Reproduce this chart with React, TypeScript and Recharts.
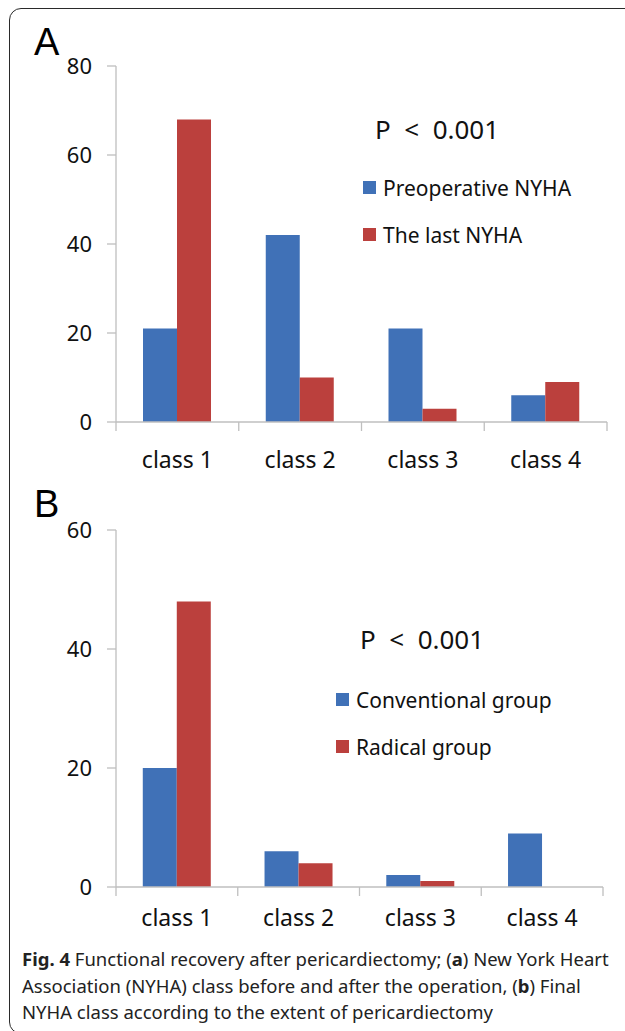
import React from 'react';
import { BarChart, Bar, XAxis, YAxis, Legend } from 'recharts';

const classes = ['class 1', 'class 2', 'class 3', 'class 4'];

// panel A: NYHA before / after operation
const preoperativeNyha = [21, 42, 21, 6];
const lastNyha = [68, 10, 3, 9];
const ticksA = [0, 20, 40, 60, 80];

// panel B: final NYHA by extent of pericardiectomy
const conventionalGroup = [20, 6, 2, 9];
const radicalGroup = [48, 4, 1, 0];
const ticksB = [0, 20, 40, 60];

const BLUE = '#4071B7';
const RED = '#BB403D';
const AXIS = '#BFBFBF';
const FONT = '"Noto Sans", "Open Sans", sans-serif';
const TICK = 9;

const dataA = classes.map((name, i) => ({ name, pre: preoperativeNyha[i], last: lastNyha[i] }));
const dataB = classes.map((name, i) => ({ name, conv: conventionalGroup[i], radical: radicalGroup[i] }));

// excel puts the tick marks between the categories, so draw them at the band edges
const makeCategoryTick = (labelMargin: number) => (props: any) => {
  const { x, y, payload, index, visibleTicksCount } = props;
  const half = payload.offset || 0;
  const y0 = y - labelMargin - TICK;
  const y1 = y - labelMargin;
  return (
    <g>
      <line x1={x - half} x2={x - half} y1={y0} y2={y1} stroke={AXIS} strokeWidth={1.3} />
      {index === visibleTicksCount - 1 && (
        <line x1={x + half} x2={x + half} y1={y0} y2={y1} stroke={AXIS} strokeWidth={1.3} />
      )}
      <text x={x} y={y} dy="0.71em" textAnchor="middle" fill="#111" fontSize={23} fontFamily={FONT}>
        {payload.value}
      </text>
    </g>
  );
};

const LegendBox = ({ payload }: any) => (
  <div style={{ fontFamily: FONT, fontSize: 21, color: '#111' }}>
    {(payload || []).map((p: any) => (
      <div key={p.value} style={{ display: 'flex', alignItems: 'center', height: 47, whiteSpace: 'nowrap' }}>
        <span style={{ display: 'inline-block', width: 13, height: 13, background: p.color, marginRight: 7 }} />
        <span>{p.value}</span>
      </div>
    ))}
  </div>
);

type PanelProps = {
  data: any[];
  keys: [string, string];
  names: [string, string];
  ticks: number[];
  top: number;
  height: number;
  margin: { top: number; right: number; bottom: number; left: number };
  labelMargin: number;
  legendPos: { top: number; left: number };
};

const Panel = ({ data, keys, names, ticks, top, height, margin, labelMargin, legendPos }: PanelProps) => (
  <div style={{ position: 'absolute', left: 0, top }}>
    <BarChart width={625} height={height} data={data} margin={margin} barCategoryGap="22%" barGap={0}>
      <XAxis
        dataKey="name"
        height={1}
        axisLine={{ stroke: AXIS, strokeWidth: 1.3 }}
        tickLine={false}
        tickSize={TICK}
        tickMargin={labelMargin}
        tick={makeCategoryTick(labelMargin)}
        interval={0}
      />
      <YAxis
        width={80}
        domain={[0, ticks[ticks.length - 1]]}
        ticks={ticks}
        interval={0}
        axisLine={{ stroke: AXIS, strokeWidth: 1.3 }}
        tickLine={{ stroke: AXIS, strokeWidth: 1.3 }}
        tickSize={TICK}
        tickMargin={15}
        tick={{ fill: '#111', fontSize: 22, fontFamily: FONT }}
      />
      <Legend
        layout="vertical"
        align="center"
        verticalAlign="middle"
        content={<LegendBox />}
        wrapperStyle={{ top: legendPos.top, left: legendPos.left, width: 260 }}
      />
      <Bar dataKey={keys[0]} name={names[0]} fill={BLUE} isAnimationActive={false} />
      <Bar dataKey={keys[1]} name={names[1]} fill={RED} isAnimationActive={false} />
    </BarChart>
  </div>
);

const pStyle: React.CSSProperties = {
  position: 'absolute',
  fontFamily: FONT,
  fontSize: 26,
  lineHeight: '26px',
  color: '#111',
  whiteSpace: 'pre',
};

const letterStyle: React.CSSProperties = {
  position: 'absolute',
  fontFamily: '"Liberation Sans", Arial, sans-serif',
  fontSize: 38,
  lineHeight: '38px',
  color: '#000',
};

export default function App() {
  return (
    <div
      style={{
        position: 'absolute',
        left: 0,
        top: 0,
        width: 625,
        height: 1031,
        overflow: 'hidden',
        background: '#fff',
      }}
    >
      <div
        style={{
          position: 'absolute',
          left: 9,
          top: 8,
          width: 720,
          height: 1024,
          border: '1.5px solid #2a2a2a',
          borderRadius: 12,
        }}
      />

      <div style={{ ...letterStyle, left: 34, top: 23 }}>A</div>
      <Panel
        data={dataA}
        keys={['pre', 'last']}
        names={['Preoperative NYHA', 'The last NYHA']}
        ticks={ticksA}
        top={0}
        height={480}
        margin={{ top: 66, right: 18, bottom: 57, left: 36 }}
        labelMargin={21}
        legendPos={{ top: 164, left: 363 }}
      />
      <div style={{ ...pStyle, left: 375, top: 116 }}>{'P  <  0.001'}</div>

      <div style={{ ...letterStyle, left: 34, top: 485 }}>B</div>
      <Panel
        data={dataB}
        keys={['conv', 'radical']}
        names={['Conventional group', 'Radical group']}
        ticks={ticksB}
        top={480}
        height={470}
        margin={{ top: 50, right: 22, bottom: 62, left: 36 }}
        labelMargin={14}
        legendPos={{ top: 196, left: 336 }}
      />
      <div style={{ ...pStyle, left: 360, top: 626 }}>{'P  <  0.001'}</div>

      <div
        style={{
          position: 'absolute',
          left: 22,
          top: 946,
          fontFamily: FONT,
          fontSize: 18.5,
          lineHeight: '26.5px',
          color: '#222',
          whiteSpace: 'nowrap',
        }}
      >
        <b>Fig. 4</b> Functional recovery after pericardiectomy; (<b>a</b>) New York Heart
        <br />
        Association (NYHA) class before and after the operation, (<b>b</b>) Final
        <br />
        NYHA class according to the extent of pericardiectomy
      </div>
    </div>
  );
}
